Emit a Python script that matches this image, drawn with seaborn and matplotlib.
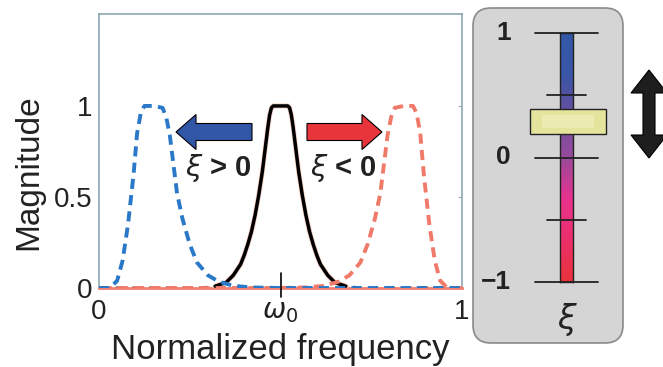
import numpy as np
import pandas as pd
import matplotlib
matplotlib.use("Agg")
import matplotlib.pyplot as plt
import seaborn as sns
from matplotlib.patches import FancyArrow, FancyBboxPatch, Polygon, Rectangle
from matplotlib.colors import LinearSegmentedColormap
from matplotlib.transforms import blended_transform_factory

# ── data ────────────────────────────────────────────────────────────
center_x = [0.00, 0.20, 0.28, 0.32, 0.35, 0.37, 0.39, 0.40, 0.41, 0.42, 0.43,
            0.44, 0.45, 0.46, 0.465, 0.47, 0.475, 0.48, 0.50, 0.52, 0.525,
            0.53, 0.535, 0.54, 0.55, 0.56, 0.57, 0.58, 0.59, 0.60, 0.61, 0.63,
            0.65, 0.68, 0.72, 0.80, 1.00]
center_y = [0.00, 0.00, 0.00, 0.01, 0.03, 0.07, 0.13, 0.18, 0.24, 0.31, 0.40,
            0.51, 0.64, 0.80, 0.88, 0.95, 0.99, 1.00, 1.00, 1.00, 0.99,
            0.95, 0.88, 0.80, 0.64, 0.51, 0.40, 0.31, 0.24, 0.18, 0.13, 0.07,
            0.03, 0.01, 0.00, 0.00, 0.00]

pos_x = [0.00, 0.03, 0.05, 0.065, 0.08, 0.095, 0.105, 0.115, 0.125, 0.15, 0.175,
         0.185, 0.195, 0.205, 0.215, 0.23, 0.25, 0.27, 0.30, 0.33, 0.37, 0.42,
         0.50, 0.70, 1.00]
pos_y = [0.00, 0.00, 0.04, 0.15, 0.35, 0.62, 0.85, 0.96, 1.00, 1.00, 0.99,
         0.94, 0.84, 0.68, 0.52, 0.38, 0.24, 0.14, 0.07, 0.035, 0.012, 0.003,
         0.00, 0.00, 0.00]

neg_x = [1.00, 0.96, 0.94, 0.925, 0.91, 0.895, 0.885, 0.875, 0.865, 0.84, 0.815,
         0.805, 0.795, 0.785, 0.775, 0.76, 0.74, 0.72, 0.69, 0.66, 0.62, 0.57,
         0.49, 0.30, 0.00]
neg_y = pos_y

y_ticks = [0, 0.5, 1]
y_tick_labels = ["0", "0.5", "1"]
x_ticks = [0, 0.5, 1]
x_tick_labels = ["0", r"$\omega_0$", "1"]

slider_ticks_major = [1, 0, -1]
slider_tick_labels = ["1", "0", "\u22121"]
slider_ticks_minor = [0.5, -0.5]
slider_value = 0.29
slider_colors = ["#e8333b", "#ec2f6a", "#e8338f", "#9a4a9c", "#6b509f", "#3a55a6", "#3358a8"]

W, H = 663, 367

sns.set_style("white")
plt.rcParams["font.family"] = ["Liberation Sans", "DejaVu Sans"]
plt.rcParams["mathtext.fontset"] = "dejavusans"

fig = plt.figure(figsize=(W / 100, H / 100), dpi=100)
fig.patch.set_facecolor("white")

def px_box(x0, y0, x1, y1):
    return [x0 / W, 1 - y1 / H, (x1 - x0) / W, (y1 - y0) / H]

# ── main axes ────────────────────────────────────────────────────────
ax = fig.add_axes(px_box(99, 14, 462, 288))
ax.set_zorder(1)

df_c = pd.DataFrame({"x": center_x, "y": center_y})
df_p = pd.DataFrame({"x": pos_x, "y": pos_y})
df_n = pd.DataFrame({"x": neg_x, "y": neg_y})

# tails of the reference curve look dashed on the baseline
sns.lineplot(data=df_c, x="x", y="y", ax=ax, color="black", lw=2.0,
             sort=False, estimator=None, zorder=2)
ax.lines[-1].set_dashes((3, 3))
mid = df_c[(df_c.x > 0.3) & (df_c.x < 0.7)]
sns.lineplot(data=mid, x="x", y="y", ax=ax, color="#f8d0c4", lw=3.6,
             sort=False, estimator=None, zorder=3)
sns.lineplot(data=mid, x="x", y="y", ax=ax, color="black", lw=2.5,
             sort=False, estimator=None, zorder=4)
sns.lineplot(data=df_n, x="x", y="y", ax=ax, color="#f07a6a", lw=2.8,
             sort=False, estimator=None, zorder=5)
ax.lines[-1].set_dashes((2.6, 1.6))
sns.lineplot(data=df_p, x="x", y="y", ax=ax, color="#2a78c8", lw=2.8,
             sort=False, estimator=None, zorder=6)
ax.lines[-1].set_dashes((2.6, 1.6))

ax.set_xlim(0, 1)
ax.set_ylim(0, 1.505)
ax.set_yticks(y_ticks)
ax.set_yticklabels(y_tick_labels)
ax.set_xticks(x_ticks)
ax.set_xticklabels(x_tick_labels)
ax.tick_params(axis="y", direction="in", length=3, color="#8fb0c0",
               labelsize=20, pad=5, right=True, labelcolor="#222222")
ax.tick_params(axis="x", length=0, labelsize=20, pad=8, labelcolor="#222222")
ax.axvline(0.5, ymin=-0.033, ymax=0.055, color="black", lw=1.2, clip_on=False, zorder=7)

for side in ["left", "right", "top"]:
    ax.spines[side].set_color("#8fa7b4")
    ax.spines[side].set_linewidth(1.2)
ax.spines["bottom"].set_color("#f08070")
ax.spines["bottom"].set_linewidth(2)

ax.set_xlabel("Normalized frequency", fontsize=25, color="#222222")
ax.set_ylabel("Magnitude", fontsize=24, color="#222222")
ax.xaxis.set_label_coords(0.499, -0.165)
ax.yaxis.set_label_coords(-0.15, 0.423)

# ── overlay in pixel coordinates ────────────────────────────────────
ov = fig.add_axes([0, 0, 1, 1])
ov.set_zorder(2)
ov.set_xlim(0, W)
ov.set_ylim(H, 0)
ov.axis("off")
ov.patch.set_alpha(0)

ov.add_patch(FancyArrow(252, 132, -76, 0, width=17, head_width=35, head_length=20,
                        length_includes_head=True, fc="#3357a7", ec="black", lw=0.8))
ov.add_patch(FancyArrow(307, 132, 75, 0, width=17, head_width=35, head_length=20,
                        length_includes_head=True, fc="#e8353c", ec="black", lw=0.8))
ov.text(218, 168, r"$\xi$ > 0", fontsize=21, fontweight="bold", ha="center",
        va="center", color="#222222")
ov.text(343, 168, r"$\xi$ < 0", fontsize=21, fontweight="bold", ha="center",
        va="center", color="#222222")

ov.add_patch(FancyBboxPatch((473, 8), 150, 335, boxstyle="round,pad=0,rounding_size=18",
                            fc="#d5d5d5", ec="#8a8a8a", lw=1.2))

ov.add_patch(Polygon([(649, 70), (667, 93), (655, 93), (655, 135), (667, 135),
                      (649, 158), (631, 135), (643, 135), (643, 93), (631, 93)],
                     closed=True, fc="#1e1e1e", ec="black", lw=0.8))

# ── slider ───────────────────────────────────────────────────────────
sl = fig.add_axes(px_box(560, 33, 573, 282))
sl.set_zorder(3)
cmap = LinearSegmentedColormap.from_list("slider", slider_colors)
sl.imshow(np.linspace(-1, 1, 256).reshape(-1, 1), cmap=cmap, aspect="auto",
          origin="lower", extent=[0, 1, -1, 1])
sl.set_xlim(0, 1)
sl.set_ylim(-1, 1)
sl.set_xticks([])
sl.set_yticks([])
for s in sl.spines.values():
    s.set_linewidth(1)
    s.set_color("#222222")

tr = blended_transform_factory(sl.transAxes, sl.transData)
for v, lab in zip(slider_ticks_major, slider_tick_labels):
    sl.plot([-1.9, 2.9], [v, v], transform=tr, color="#222222", lw=1.3,
            clip_on=False, zorder=1)
    sl.text(-3.8, v, lab, transform=tr, fontsize=19, fontweight="bold",
            ha="right", va="center", color="#222222")
for v in slider_ticks_minor:
    sl.plot([-1.0, 2.0], [v, v], transform=tr, color="#222222", lw=1.3,
            clip_on=False, zorder=1)
sl.add_patch(Rectangle((-2.3, slider_value - 0.1), 5.85, 0.2, transform=tr,
                       fc="#e4e49c", ec="#222222", lw=1, clip_on=False, zorder=5))
sl.add_patch(Rectangle((-1.4, slider_value - 0.05), 4.0, 0.1, transform=tr,
                       fc="#eeeeb8", ec="none", clip_on=False, zorder=6, alpha=0.8))
sl.text(0.6, -1.3, r"$\xi$", transform=tr, fontsize=24, ha="center", va="center",
        color="#222222")

fig.savefig("out.png", dpi=100)
